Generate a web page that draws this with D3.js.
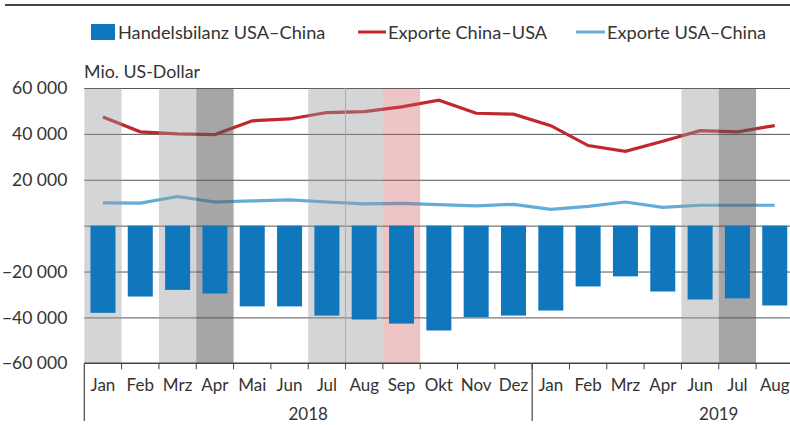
<!DOCTYPE html>
<html>
    <head>
        <title>Handelsbilanz USA-China</title>
        <script src="https://d3js.org/d3.v7.min.js"></script>
        <style>
            body {
                margin: 0;
                font-family: Lato, sans-serif;
            }
            svg {
                width: 790px;
                height: 425px;
                display: block;
            }
            text {
                fill: #333;
            }
        </style>
    </head>
    <body>
        <svg></svg>
    </body>
    <script>
        // data (Mio. US-Dollar)
        const periods = ['2018-01','2018-02','2018-03','2018-04','2018-05','2018-06','2018-07','2018-08','2018-09','2018-10','2018-11','2018-12',
                         '2019-01','2019-02','2019-03','2019-04','2019-06','2019-07','2019-08'];
        const monthLabels = ['Jan','Feb','Mrz','Apr','Mai','Jun','Jul','Aug','Sep','Okt','Nov','Dez',
                             'Jan','Feb','Mrz','Apr','Jun','Jul','Aug'];
        const balance = [-38000,-30900,-28000,-29600,-35200,-35200,-39200,-40900,-42700,-45700,-39900,-39200,
                         -37000,-26500,-22100,-28700,-32200,-31700,-34800];
        const exportsChinaUSA = [47400,40900,40000,39700,45700,46500,49300,49700,51800,54700,49000,48600,
                                 43600,34900,32400,36800,41400,40900,43600];
        const exportsUSAChina = [9900,9800,12700,10300,10800,11200,10300,9500,9700,9200,8600,9300,
                                 7100,8400,10300,8000,8900,8900,8900];
        const yTicks = [60000, 40000, 20000, 0, -20000, -40000, -60000];
        const lightBands = ['2018-01','2018-03','2018-07','2018-08','2019-06'];
        const darkBands = ['2018-04','2019-07'];
        const pinkBands = ['2018-09'];
        const years = [
            { label: '2018', first: '2018-01', last: '2018-12' },
            { label: '2019', first: '2019-01', last: '2019-08' }
        ];
        const legendItems = ['Handelsbilanz USA–China', 'Exporte China–USA', 'Exporte USA–China'];

        const svg = d3.select('svg');
        const margin = { top: 88, left: 84.3, bottom: 363.3 };
        const plotRight = 793.4;

        const xScale = d3.scaleBand()
                        .domain(periods)
                        .range([margin.left, plotRight]);
        const step = xScale.step();
        const xMid = p => xScale(p) + step / 2;
        const yScale = d3.scaleLinear()
                        .domain([-60000, 60000])
                        .range([margin.bottom, margin.top]);

        // top rule
        svg.append('line')
            .attr('x1', 5).attr('x2', 790)
            .attr('y1', 5).attr('y2', 5)
            .style('stroke', '#444').style('stroke-width', 2);

        // legend
        const legend = svg.append('g');
        legend.append('rect')
            .attr('x', 91).attr('y', 24).attr('width', 24).attr('height', 16)
            .style('fill', '#1077bd');
        legend.append('text').attr('x', 118).attr('y', 38.5).text(legendItems[0]);
        legend.append('line')
            .attr('x1', 358).attr('x2', 386).attr('y1', 32).attr('y2', 32)
            .style('stroke', '#c1272d').style('stroke-width', 3);
        legend.append('text').attr('x', 388).attr('y', 38.5).text(legendItems[1]);
        legend.append('line')
            .attr('x1', 576).attr('x2', 605).attr('y1', 32).attr('y2', 32)
            .style('stroke', '#6aaed8').style('stroke-width', 3);
        legend.append('text').attr('x', 607).attr('y', 38.5).text(legendItems[2]);
        legend.selectAll('text').style('font-size', '18.2px');

        svg.append('text')
            .attr('x', 84).attr('y', 78)
            .style('font-size', '17.8px')
            .text('Mio. US-Dollar');

        // grid lines
        const yAxis = d3.axisLeft(yScale)
                        .tickValues(yTicks)
                        .tickSize(-(790 - margin.left))
                        .tickFormat(d => d === 0 ? '' : d3.format(',')(d).replace(',', ' '));
        const yG = svg.append('g')
                      .attr('transform', `translate(${margin.left},0)`)
                      .call(yAxis);
        yG.select('.domain').remove();
        yG.selectAll('.tick line')
          .style('stroke', d => d === -60000 ? 'none' : '#555')
          .style('stroke-width', 1);
        yG.selectAll('.tick text')
          .attr('x', -17)
          .style('font-size', '17.5px')
          .style('font-family', 'Lato, sans-serif')
          .style('fill', '#333');

        // lines (drawn below the shaded months)
        const line = d3.line()
                       .x((d, i) => xMid(periods[i]))
                       .y(d => yScale(d));
        svg.append('path')
            .datum(exportsChinaUSA)
            .attr('d', line)
            .style('fill', 'none')
            .style('stroke', '#c1272d')
            .style('stroke-width', 3.2);
        svg.append('path')
            .datum(exportsUSAChina)
            .attr('d', line)
            .style('fill', 'none')
            .style('stroke', '#64acd8')
            .style('stroke-width', 3.2);

        // shaded months
        function shade(keys, color, opacity) {
            svg.append('g').selectAll('rect')
                .data(keys)
                .enter()
                .append('rect')
                .attr('x', d => xScale(d))
                .attr('y', margin.top + 0.5)
                .attr('width', step)
                .attr('height', margin.bottom - margin.top - 0.5)
                .style('fill', color)
                .style('opacity', opacity);
        }
        shade(lightBands, 'rgb(150,152,157)', 0.41);
        shade(darkBands, 'rgb(90,90,90)', 0.54);
        shade(pinkBands, 'rgb(205,95,100)', 0.36);
        svg.append('line')
            .attr('x1', xScale('2018-08')).attr('x2', xScale('2018-08'))
            .attr('y1', margin.top).attr('y2', margin.bottom)
            .style('stroke', '#aaa').style('stroke-width', 1);

        // bars
        const barWidth = step * 0.67;
        svg.append('g').selectAll('rect')
            .data(balance)
            .enter()
            .append('rect')
            .attr('x', (d, i) => xMid(periods[i]) - barWidth / 2)
            .attr('y', d => yScale(Math.max(0, d)))
            .attr('width', barWidth)
            .attr('height', d => Math.abs(yScale(d) - yScale(0)))
            .style('fill', '#1077bd');

        // x axis
        const xAxis = d3.axisBottom(xScale)
                        .tickSize(0)
                        .tickPadding(16)
                        .tickFormat((d, i) => monthLabels[i]);
        const xG = svg.append('g')
                      .attr('transform', `translate(0,${margin.bottom})`)
                      .call(xAxis);
        xG.select('.domain').remove();
        xG.selectAll('.tick text')
          .style('font-size', '17px')
          .style('font-family', 'Lato, sans-serif')
          .style('fill', '#333');

        svg.append('line')
            .attr('x1', margin.left).attr('x2', 790)
            .attr('y1', margin.bottom).attr('y2', margin.bottom)
            .style('stroke', '#444').style('stroke-width', 1.5);
        svg.append('g').selectAll('line')
            .data(periods.slice(1))
            .enter()
            .append('line')
            .attr('x1', d => xScale(d)).attr('x2', d => xScale(d))
            .attr('y1', margin.bottom).attr('y2', margin.bottom + 6)
            .style('stroke', '#444');

        // year separators and labels
        svg.append('g').selectAll('line')
            .data(years)
            .enter()
            .append('line')
            .attr('x1', d => xScale(d.first)).attr('x2', d => xScale(d.first))
            .attr('y1', margin.bottom).attr('y2', 421)
            .style('stroke', '#444').style('stroke-width', 1.2);
        svg.append('g').selectAll('text')
            .data(years)
            .enter()
            .append('text')
            .attr('x', d => d.label === '2018'
                ? (xScale(d.first) + xScale(d.last) + step) / 2
                : xScale('2019-07'))
            .attr('y', 420)
            .style('text-anchor', 'middle')
            .style('font-size', '17px')
            .text(d => d.label);
    </script>
</html>
